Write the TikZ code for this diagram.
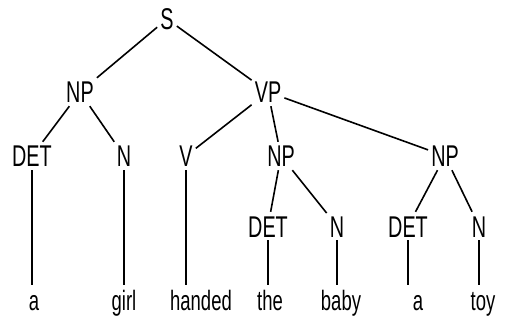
\documentclass[tikz,border=0pt]{standalone}
\usepackage{fontspec}
\setmainfont{Liberation Sans}[FakeStretch=0.66]
\begin{document}
\begin{tikzpicture}[x=1pt,y=-1pt,
  lbl/.style={anchor=base,inner sep=3pt,text height=22pt,text depth=0pt,
    font=\fontsize{30}{30}\selectfont},
  leaf/.style={lbl,font=\fontsize{28}{28}\selectfont},
  edge/.style={line width=1.6pt}]
\useasboundingbox (0,0) rectangle (513,320);
% nonterminals
\node[lbl] (S) at (167,30) {S};
\node[lbl] (NP1) at (80,103) {NP};
\node[lbl] (VP) at (268,103) {VP};
\node[lbl] (DET1) at (32,167) {DET};
\node[lbl] (N1) at (124,167) {N};
\node[lbl] (V) at (186,167) {V};
\node[lbl] (NP2) at (281,167) {NP};
\node[lbl] (NP3) at (445,167) {NP};
\node[lbl] (DET2) at (268,237) {DET};
\node[lbl] (N2) at (337,237) {N};
\node[lbl] (DET3) at (408,237) {DET};
\node[lbl] (N3) at (479,237) {N};
% leaves
\node[leaf] (w1) at (34,310) {a};
\node[leaf] (w2) at (124,310) {girl};
\node[leaf] (w3) at (201,310) {handed};
\node[leaf] (w4) at (270,310) {the};
\node[leaf] (w5) at (341,310) {baby};
\node[leaf] (w6) at (418,310) {a};
\node[leaf] (w7) at (483,310) {toy};
% edges
\draw[edge] (S) -- (NP1);
\draw[edge] (S) -- (VP);
\draw[edge] (NP1) -- (DET1);
\draw[edge] (NP1) -- (N1);
\draw[edge] (VP) -- (V);
\draw[edge] (VP) -- (NP2);
\draw[edge] (VP) -- (NP3);
\draw[edge] (NP2) -- (DET2);
\draw[edge] (NP2) -- (N2);
\draw[edge] (NP3) -- (DET3);
\draw[edge] (NP3) -- (N3);
\draw[edge] (DET1) -- (DET1 |- w1.north);
\draw[edge] (N1) -- (N1 |- w2.north);
\draw[edge] (V) -- (V |- w3.north);
\draw[edge] (DET2) -- (DET2 |- w4.north);
\draw[edge] (N2) -- (N2 |- w5.north);
\draw[edge] (DET3) -- (DET3 |- w6.north);
\draw[edge] (N3) -- (N3 |- w7.north);
\end{tikzpicture}
\end{document}
